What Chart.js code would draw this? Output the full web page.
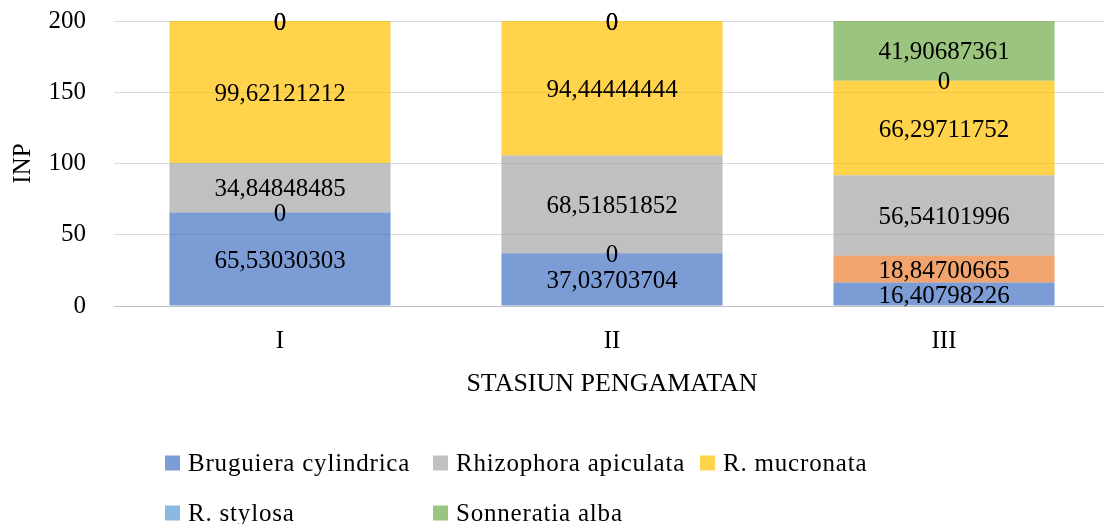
<!DOCTYPE html>
<html>
<head>
<meta charset="utf-8">
<script src="https://cdn.jsdelivr.net/npm/chart.js@4.4.1/dist/chart.umd.min.js"></script>
<style>
  html, body { margin: 0; padding: 0; background: #fff; overflow: hidden; }
  #wrap { position: relative; width: 1110px; height: 524px; }
</style>
</head>
<body>
<div id="wrap"><canvas id="c"></canvas></div>
<script>
// Stations and INP values per species (stacked bottom to top)
const stations = ['I', 'II', 'III'];
const bruguieraCylindrica = [65.53030303, 37.03703704, 16.40798226];
const unlistedSpecies     = [0, 0, 18.84700665];
const rhizophoraApiculata = [34.84848485, 68.51851852, 56.54101996];
const rMucronata          = [99.62121212, 94.44444444, 66.29711752];
const rStylosa            = [0, 0, 0];
const sonneratiaAlba      = [0, 0, 41.90687361];
const yTicks = [0, 50, 100, 150, 200];

const FONT = '"Liberation Serif", "Times New Roman", serif';
const TEXT = '#000000';

const series = [
  { label: 'Bruguiera cylindrica', data: bruguieraCylindrica, color: 'rgba(68,114,196,0.7)' },
  { label: '',                     data: unlistedSpecies,     color: 'rgba(237,125,49,0.7)' },
  { label: 'Rhizophora apiculata', data: rhizophoraApiculata, color: 'rgba(165,165,165,0.7)' },
  { label: 'R. mucronata',         data: rMucronata,          color: 'rgba(255,192,0,0.7)' },
  { label: 'R. stylosa',           data: rStylosa,            color: 'rgba(91,155,213,0.7)' },
  { label: 'Sonneratia alba',      data: sonneratiaAlba,      color: 'rgba(112,173,71,0.7)' }
];

// Centered value label on every segment, decimal comma
const valueLabels = {
  id: 'valueLabels',
  afterDatasetsDraw(chart) {
    const ctx = chart.ctx;
    ctx.save();
    ctx.font = '25px ' + FONT;
    ctx.fillStyle = TEXT;
    ctx.textAlign = 'center';
    ctx.textBaseline = 'middle';
    chart.data.datasets.forEach((ds, i) => {
      const meta = chart.getDatasetMeta(i);
      meta.data.forEach((bar, j) => {
        const p = bar.getProps(['x', 'y', 'base'], true);
        ctx.fillText(String(ds.data[j]).replace('.', ','), p.x, (p.y + p.base) / 2 + 2);
      });
    });
    ctx.restore();
  }
};

// Legend laid out as a three-column grid under the axis title
const gridLegend = {
  id: 'gridLegend',
  afterDraw(chart) {
    const ctx = chart.ctx;
    const items = chart.data.datasets.filter(ds => ds.label);
    const colX = [165, 433, 700];
    const rowY = [464, 514];
    const box = 15;
    ctx.save();
    ctx.font = '25px ' + FONT;
    ctx.textBaseline = 'middle';
    ctx.textAlign = 'left';
    try { ctx.letterSpacing = '0.8px'; } catch (e) {}
    items.forEach((ds, k) => {
      const x = colX[k % 3];
      const y = rowY[Math.floor(k / 3)];
      ctx.fillStyle = ds.backgroundColor;
      ctx.fillRect(x, y - box / 2 - 1, box, box);
      ctx.fillStyle = TEXT;
      ctx.fillText(ds.label, x + 23, y);
    });
    ctx.restore();
  }
};

new Chart(document.getElementById('c'), {
  type: 'bar',
  data: {
    labels: stations,
    datasets: series.map(s => ({
      label: s.label,
      data: s.data,
      backgroundColor: s.color,
      borderWidth: 0,
      barPercentage: 0.666,
      categoryPercentage: 1.0
    }))
  },
  options: {
    responsive: true,
    maintainAspectRatio: false,
    devicePixelRatio: 1,
    animation: false,
    layout: { padding: { top: 21, right: 0, bottom: 124, left: 0 } },
    plugins: {
      legend: { display: false },
      tooltip: { enabled: false },
      title: { display: false }
    },
    scales: {
      x: {
        stacked: true,
        grid: { display: false, drawTicks: false },
        border: { display: true, color: '#BFBFBF', width: 1 },
        ticks: { color: TEXT, font: { family: FONT, size: 25 }, padding: 20 },
        title: {
          display: true,
          text: 'STASIUN PENGAMATAN',
          color: TEXT,
          font: { family: FONT, size: 26 },
          padding: { top: 0, bottom: 0 }
        },
        afterFit(axis) { axis.height = 94; }
      },
      y: {
        stacked: true,
        min: 0,
        max: 200,
        afterBuildTicks(axis) { axis.ticks = yTicks.map(v => ({ value: v })); },
        grid: {
          drawTicks: false,
          color: c => (c.tick && c.tick.value === 0) ? '#BFBFBF' : '#D9D9D9',
          lineWidth: 1
        },
        border: { display: false },
        ticks: { color: TEXT, font: { family: FONT, size: 25 }, padding: 28 },
        title: {
          display: true,
          text: 'INP',
          color: TEXT,
          font: { family: FONT, size: 25 },
          padding: { top: 8, bottom: 0 }
        },
        afterFit(axis) {
          axis.width = 114;
          axis.paddingTop = 0;
          axis.paddingBottom = 0;
        }
      }
    }
  },
  plugins: [valueLabels, gridLegend]
});
</script>
</body>
</html>
